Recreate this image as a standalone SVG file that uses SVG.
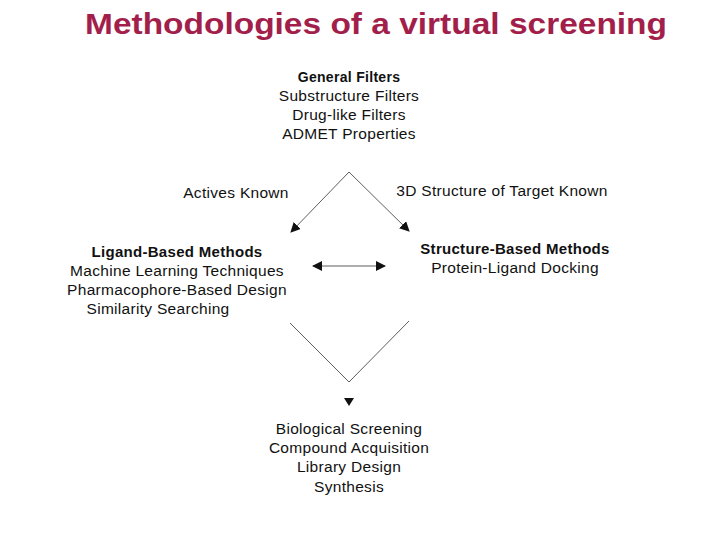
<svg xmlns="http://www.w3.org/2000/svg" width="720" height="540" viewBox="0 0 720 540">
<style>
text{font-family:"Liberation Sans",Arial,sans-serif;font-size:15.5px;letter-spacing:0.3px;fill:#111;text-anchor:middle}
.b{font-weight:bold}
.t{font-size:30px;font-weight:bold;fill:#A31F4B;letter-spacing:0}
.c{stroke:#333;stroke-width:0.8;fill:none}
</style>
<defs><marker id="a" markerWidth="10" markerHeight="10" refX="9" refY="5" orient="auto" markerUnits="userSpaceOnUse"><path d="M0,0 L10,5 L0,10 z" fill="#111"/></marker></defs>
<rect width="720" height="540" fill="#fff"/>
<text class="t" x="376" y="34" textLength="582" lengthAdjust="spacingAndGlyphs">Methodologies of a virtual screening</text>
<g id="general"><text class="b" x="349" y="82" style="font-size:14px">General Filters</text><text x="349" y="101">Substructure Filters</text><text x="349" y="120">Drug-like Filters</text><text x="349" y="139">ADMET Properties</text></g>
<g id="actives"><text x="236" y="198">Actives Known</text></g>
<g id="target"><text x="502" y="196">3D Structure of Target Known</text></g>
<g id="ligand"><text class="b" x="177" y="257" style="font-size:15px">Ligand-Based Methods</text><text x="177" y="276">Machine Learning Techniques</text><text x="177" y="295">Pharmacophore-Based Design</text><text x="158" y="314">Similarity Searching</text></g>
<g id="structure"><text class="b" x="515" y="254" style="font-size:15px">Structure-Based Methods</text><text x="515" y="273">Protein-Ligand Docking</text></g>
<g id="bio"><text x="349" y="434">Biological Screening</text><text x="349" y="453">Compound Acquisition</text><text x="349" y="472">Library Design</text><text x="349" y="492">Synthesis</text></g>
<g id="connectors">
<path class="c" d="M349,172 L291,232" marker-end="url(#a)"/>
<path class="c" d="M349,172 L409,231" marker-end="url(#a)"/>
<path class="c" d="M350,266 L385,266" marker-end="url(#a)"/>
<path class="c" d="M350,266 L313,266" marker-end="url(#a)"/>
<path class="c" d="M290,323 L349,382 L409,321"/>
<path d="M344,398 L354,398 L349,406 z" fill="#111"/>
</g>
</svg>
